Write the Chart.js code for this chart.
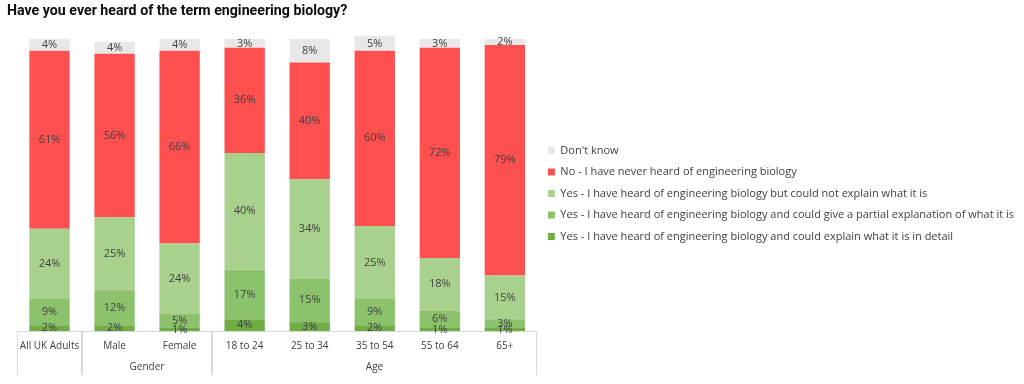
<!DOCTYPE html>
<html>
<head>
<meta charset="utf-8">
<script src="https://cdn.jsdelivr.net/npm/chart.js@4"></script>
<style>
  html, body { margin: 0; padding: 0; background: #fff; }
  #wrap { width: 1024px; height: 384px; }
</style>
</head>
<body>
<div id="wrap"><canvas id="engChart"></canvas></div>
<script>
// categories and the group each one sits under
const categories = ["All UK Adults", "Male", "Female", "18 to 24", "25 to 34", "35 to 54", "55 to 64", "65+"];
const groups = ["", "Gender", "Gender", "Age", "Age", "Age", "Age", "Age"];

// series values (%), bottom of the stack first
const explainDetail = [2, 2, 1, 4, 3, 2, 1, 1];
const partialExplain = [9, 12, 5, 17, 15, 9, 6, 3];
const cannotExplain = [24, 25, 24, 40, 34, 25, 18, 15];
const neverHeard = [61, 56, 66, 36, 40, 60, 72, 79];
const dontKnow = [4, 4, 4, 3, 8, 5, 3, 2];

const seriesNames = [
  "Yes - I have heard of engineering biology and could explain what it is in detail",
  "Yes - I have heard of engineering biology and could give a partial explanation of what it is",
  "Yes - I have heard of engineering biology but could not explain what it is",
  "No - I have never heard of engineering biology",
  "Don't know"
];
const seriesColors = ["#70ad47", "#8dc26c", "#a9d18e", "#ff5050", "#e8e8e8"];

const textColor = "#404040";
const lineColor = "#d9d9d9";
const fontFamily = "'Open Sans'";

// write the % value in the middle of every segment
const segmentLabels = {
  id: "segmentLabels",
  afterDatasetsDraw(chart) {
    const ctx = chart.ctx;
    ctx.save();
    ctx.font = `11px ${fontFamily}`;
    ctx.fillStyle = textColor;
    ctx.textAlign = "center";
    ctx.textBaseline = "middle";
    chart.data.datasets.forEach((ds, i) => {
      chart.getDatasetMeta(i).data.forEach((bar, j) => {
        ctx.fillText(`${ds.data[j]}%`, bar.x, (bar.y + bar.base) / 2);
      });
    });
    ctx.restore();
  }
};

// second row of the x axis: group names and separator lines
const groupAxis = {
  id: "groupAxis",
  afterDraw(chart) {
    const xs = chart.scales.x;
    const area = chart.chartArea;
    const ctx = chart.ctx;
    const half = (xs.getPixelForValue(1) - xs.getPixelForValue(0)) / 2;
    const lineEnd = area.bottom + 44;

    ctx.save();
    ctx.strokeStyle = lineColor;
    ctx.lineWidth = 1;
    ctx.font = `10px ${fontFamily}`;
    ctx.fillStyle = textColor;
    ctx.textAlign = "center";
    ctx.textBaseline = "middle";

    let start = 0;
    for (let i = 1; i <= groups.length; i++) {
      if (i === groups.length || groups[i] !== groups[start]) {
        const left = Math.round(xs.getPixelForValue(start) - half) + 0.5;
        const right = Math.round(xs.getPixelForValue(i - 1) + half) - 0.5;
        ctx.beginPath();
        ctx.moveTo(left, area.bottom);
        ctx.lineTo(left, lineEnd);
        ctx.moveTo(right, area.bottom);
        ctx.lineTo(right, lineEnd);
        ctx.stroke();
        if (groups[start]) {
          ctx.fillText(groups[start], (left + right) / 2, area.bottom + 36);
        }
        start = i;
      }
    }
    ctx.restore();
  }
};

const values = [explainDetail, partialExplain, cannotExplain, neverHeard, dontKnow];

new Chart(document.getElementById("engChart"), {
  type: "bar",
  data: {
    labels: categories,
    datasets: values.map((data, i) => ({
      label: seriesNames[i],
      data: data,
      backgroundColor: seriesColors[i],
      borderWidth: 0,
      clip: false,
      categoryPercentage: 1,
      barPercentage: 0.62
    }))
  },
  options: {
    responsive: true,
    maintainAspectRatio: false,
    animation: false,
    devicePixelRatio: 1,
    layout: { padding: { left: 7, right: 0, top: 3, bottom: 0 } },
    scales: {
      x: {
        stacked: true,
        grid: { display: false, drawTicks: false },
        border: { display: true, color: lineColor },
        ticks: {
          color: textColor,
          font: { family: fontFamily, size: 10 },
          padding: 9,
          maxRotation: 0,
          autoSkip: false
        },
        afterFit: s => { s.height = 53; }
      },
      y: {
        stacked: true,
        min: 0,
        max: 100,
        position: "left",
        grid: { display: false },
        border: { display: false },
        ticks: { display: false },
        afterFit: s => { s.width = 10; }
      }
    },
    plugins: {
      title: {
        display: true,
        text: "Have you ever heard of the term engineering biology?",
        align: "start",
        color: "#0b0c0c",
        font: { family: "Roboto", size: 14.2, weight: "bold" },
        padding: { top: 0, bottom: 19 }
      },
      legend: {
        position: "right",
        reverse: true,
        maxWidth: 520,
        labels: {
          color: textColor,
          font: { family: fontFamily, size: 11 },
          boxWidth: 7,
          boxHeight: 7,
          padding: 10.5
        }
      },
      tooltip: { enabled: false }
    }
  },
  plugins: [segmentLabels, groupAxis]
});
</script>
</body>
</html>
